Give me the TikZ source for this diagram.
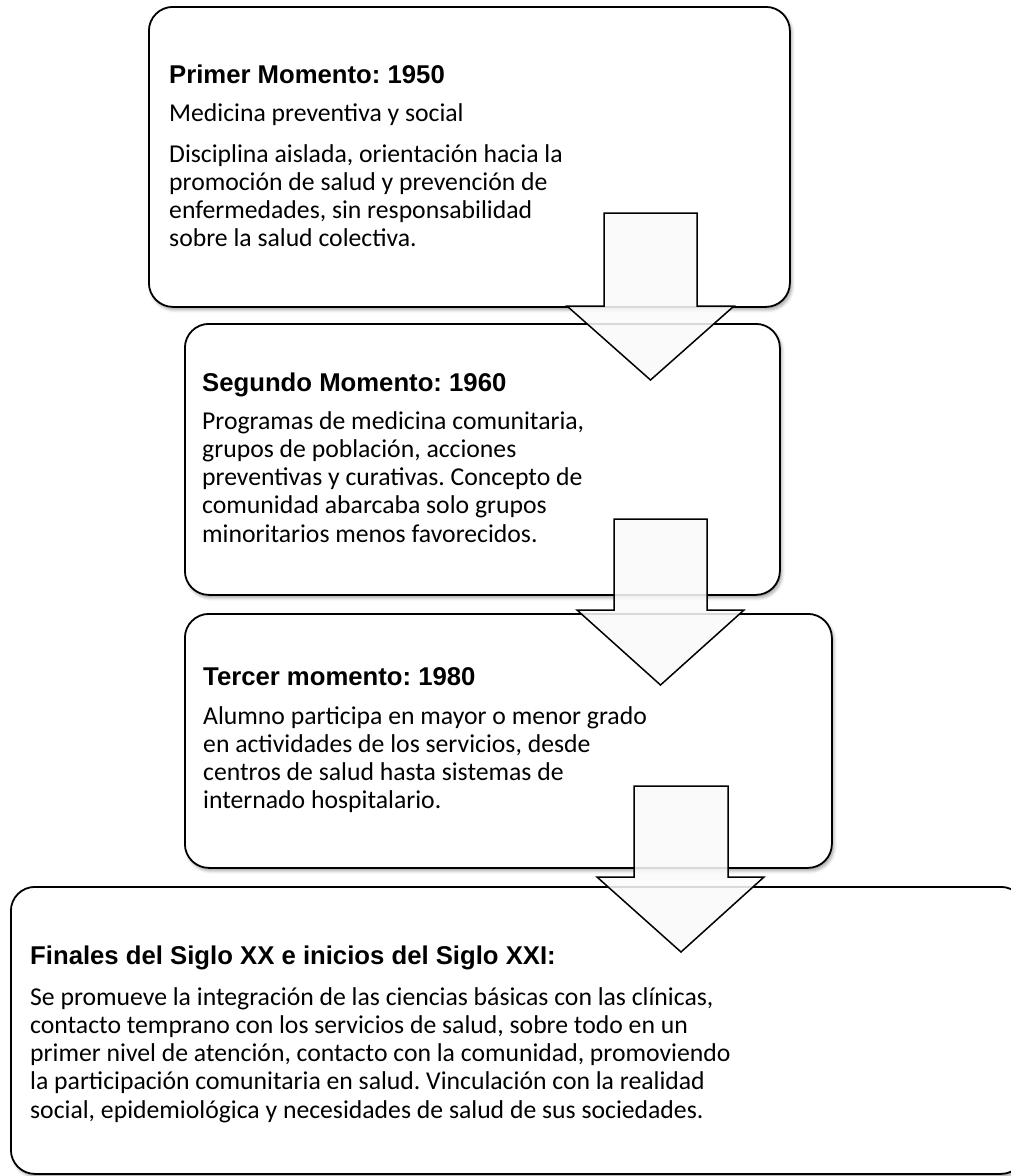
\documentclass[tikz,border=0pt]{standalone}
\usepackage{fontspec}
\setmainfont{Carlito}
\newfontfamily\headfont{Liberation Sans}
\usetikzlibrary{shadows.blur}
\frenchspacing

\begin{document}
\begin{tikzpicture}[x=1pt,y=-1pt,
  stagebox/.style={draw=black, line width=1.8pt, rounded corners=24pt, fill=white,
    inner sep=0pt, anchor=north west,
    blur shadow={shadow xshift=2pt, shadow yshift=-3pt, shadow opacity=35,
      shadow blur radius=3pt}},
  headtext/.style={inner sep=0pt, anchor=base west,
    font=\headfont\bfseries\fontsize{25.7}{28.3}\selectfont},
  bodytext/.style={inner sep=0pt, anchor=base west,
    font=\fontsize{25.7}{28.3}\selectfont},
  blockarrow/.style={draw=black, line width=1.5pt, fill=black!2,
    fill opacity=0.87, line join=miter}
]
\useasboundingbox (0,0) rectangle (1010,1176);

% the four stages
\node[stagebox, minimum width=641pt, minimum height=300pt] (m1) at (148,6) {};
\node[stagebox, minimum width=595pt, minimum height=271pt] (m2) at (184,323) {};
\node[stagebox, minimum width=647pt, minimum height=254pt] (m3) at (184,613) {};
\node[stagebox, minimum width=1014pt, minimum height=287pt] (m4) at (10,886) {};

% first stage
\node[headtext] (h1) at (169,83) {Primer Momento: 1950};
\node[bodytext] (s1) at (169,121) {\parbox[t]{600pt}{Medicina preventiva y social}};
\node[bodytext] (t1) at (169,162) {\parbox[t]{600pt}{\raggedright
  Disciplina aislada, orientación hacia la\\
  promoción de salud y prevención de\\
  enfermedades, sin responsabilidad\\
  sobre la salud colectiva.}};

% second stage
\node[headtext] (h2) at (202,391) {Segundo Momento: 1960};
\node[bodytext] (t2) at (202,429) {\parbox[t]{600pt}{\raggedright
  Programas de medicina comunitaria,\\
  grupos de población, acciones\\
  preventivas y curativas. Concepto de\\
  comunidad abarcaba solo grupos\\
  minoritarios menos favorecidos.}};

% third stage
\node[headtext] (h3) at (203,685) {Tercer momento: 1980};
\node[bodytext] (t3) at (203,724) {\parbox[t]{600pt}{\raggedright
  Alumno participa en mayor o menor grado\\
  en actividades de los servicios, desde\\
  centros de salud hasta sistemas de\\
  internado hospitalario.}};

% fourth stage
\node[headtext] (h4) at (30,964) {Finales del Siglo XX e inicios del Siglo XXI:};
\node[bodytext] (t4) at (30,1005) {\parbox[t]{900pt}{\raggedright
  Se promueve la integración de las ciencias básicas con las clínicas,\\
  contacto temprano con los servicios de salud, sobre todo en un\\
  primer nivel de atención, contacto con la comunidad, promoviendo\\
  la participación comunitaria en salud. Vinculación con la realidad\\
  social, epidemiológica y necesidades de salud de sus sociedades.}};

% block arrows between the stages
\draw[blockarrow] (604,213) -- (697,213) -- (697,306) -- (734,306)
  -- (650.5,380) -- (567,306) -- (604,306) -- cycle;
\draw[blockarrow] (614,519) -- (707,519) -- (707,610) -- (744,610)
  -- (660.5,685) -- (577,610) -- (614,610) -- cycle;
\draw[blockarrow] (634,786) -- (728,786) -- (728,877) -- (764,877)
  -- (681,952) -- (597,877) -- (634,877) -- cycle;
\end{tikzpicture}
\end{document}
